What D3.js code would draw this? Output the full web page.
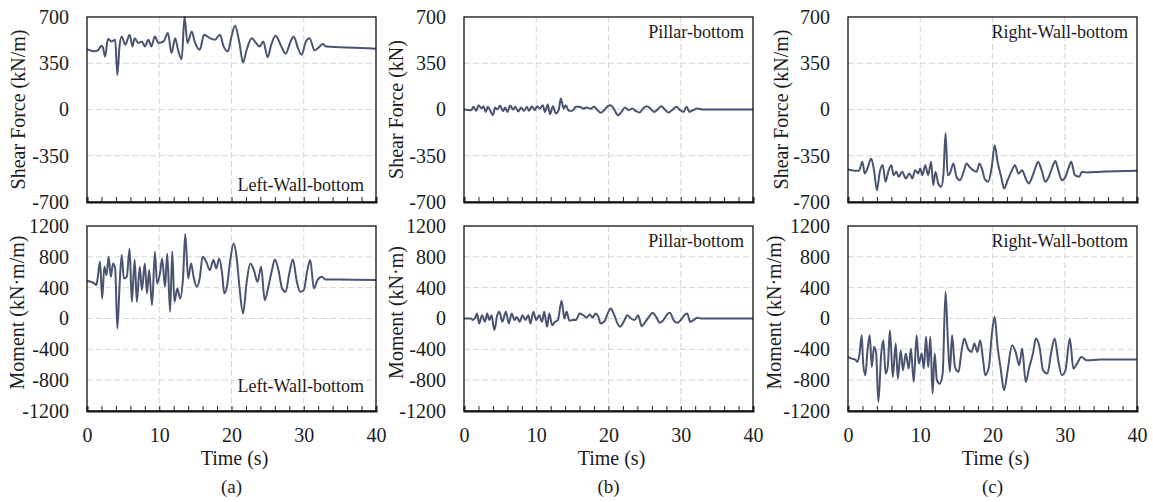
<!DOCTYPE html>
<html>
<head>
<meta charset="utf-8">
<script src="https://cdn.jsdelivr.net/npm/d3@7"></script>
<style>
  body { margin: 0; background: #fff; }
  svg text { font-family: "Liberation Serif", "Times New Roman", serif; fill: #1c1c1c; }
</style>
</head>
<body>
<div id="chart"></div>
<script>
var width = 1153,
    height = 502;

// axis values
var timeTicks = [0, 10, 20, 30, 40];
var shearTicks = [-700, -350, 0, 350, 700];
var momentTicks = [-1200, -800, -400, 0, 400, 800, 1200];

var panelNames = ["(a)", "(b)", "(c)"];
var locations = ["Left-Wall-bottom", "Pillar-bottom", "Right-Wall-bottom"];
var shearTitles = ["Shear Force (kN/m)", "Shear Force (kN)", "Shear Force (kN/m)"];
var momentTitles = ["Moment (kN\u00b7m/m)", "Moment (kN\u00b7m)", "Moment (kN\u00b7m/m)"];

// [time (s), value]
var leftShear = [[0,455],[0.5,447],[1,440],[1.5,447],[1.8,470],[2,482],[2.2,470],[2.5,400],[2.9,533],[3.4,515],[3.9,528],[4.2,262],[4.5,477],[4.8,553],[5.3,490],[5.9,566],[6.3,477],[6.6,540],[7.1,503],[7.6,515],[8.0,477],[8.5,528],[8.9,477],[9.4,553],[9.9,503],[10.6,515],[11.2,579],[11.7,427],[12.2,540],[12.6,452],[13.1,381],[13.5,700],[13.9,503],[14.5,591],[14.9,515],[15.6,452],[16.2,566],[17.0,540],[17.7,528],[18.4,566],[18.9,477],[19.5,440],[20.0,553],[20.5,634],[21.1,503],[21.6,356],[22.1,452],[22.8,540],[23.4,503],[23.9,477],[24.4,515],[25.0,396],[25.5,490],[26.1,558],[26.9,477],[27.5,422],[28.1,503],[28.6,553],[29.2,465],[29.7,414],[30.3,515],[30.8,540],[31.5,447],[32.0,465],[32.6,495],[33.1,477],[35,472],[40,460]];

var pillarShear = [[0,0],[1.0,-5],[1.3,20],[1.7,-10],[2.0,33],[2.4,8],[2.7,25],[3.0,-18],[3.3,20],[3.6,-5],[4.0,-43],[4.3,15],[4.6,0],[5.0,28],[5.4,-13],[5.7,15],[6.0,-18],[6.4,30],[6.8,0],[7.1,20],[7.5,-15],[7.9,15],[8.3,-10],[8.7,20],[9.0,-10],[9.4,25],[9.8,-5],[10.1,25],[10.5,8],[10.9,33],[11.2,-18],[11.6,38],[11.9,-35],[12.3,25],[12.7,-30],[13.1,-5],[13.4,83],[13.8,8],[14.1,33],[14.5,-10],[15.0,-10],[15.5,20],[16.0,20],[16.5,8],[17.0,15],[17.5,5],[18.0,20],[18.5,-5],[18.9,-25],[19.4,-5],[19.9,25],[20.3,33],[20.8,0],[21.3,-43],[21.8,-18],[22.3,15],[22.8,-5],[23.3,8],[23.8,-13],[24.3,-23],[24.8,8],[25.3,25],[25.8,8],[26.3,-18],[26.8,0],[27.3,25],[27.8,0],[28.3,-23],[28.8,-5],[29.4,20],[29.9,-5],[30.4,-18],[30.8,20],[31.2,-18],[31.7,-5],[32.3,8],[33,0],[40,0]];

var rightShear = [[0,-454],[0.5,-459],[1.0,-464],[1.5,-464],[2.0,-395],[2.3,-484],[2.7,-446],[3.2,-370],[3.6,-459],[4.0,-611],[4.4,-471],[4.8,-420],[5.2,-547],[5.6,-464],[6.0,-421],[6.3,-497],[6.7,-471],[7.0,-509],[7.5,-471],[8.0,-522],[8.5,-484],[8.9,-522],[9.3,-459],[9.7,-484],[10.0,-446],[10.3,-497],[10.7,-421],[11.1,-497],[11.5,-395],[11.8,-573],[12.1,-471],[12.5,-560],[12.9,-585],[13.2,-497],[13.5,-180],[13.8,-497],[14.1,-484],[14.6,-408],[15.0,-509],[15.5,-535],[16.0,-471],[16.4,-408],[16.8,-433],[17.3,-459],[17.8,-471],[18.2,-408],[18.6,-459],[18.9,-522],[19.4,-547],[19.9,-433],[20.3,-271],[20.7,-395],[21.2,-509],[21.6,-598],[22.1,-535],[22.7,-459],[23.1,-421],[23.6,-484],[24.1,-459],[24.5,-509],[25.0,-560],[25.5,-509],[26.0,-433],[26.3,-395],[26.8,-459],[27.3,-547],[27.8,-509],[28.3,-433],[28.7,-390],[29.1,-459],[29.6,-535],[30.1,-509],[30.5,-446],[30.9,-395],[31.4,-497],[32.0,-509],[32.4,-471],[33,-477],[35,-471],[40,-464]];

var leftMoment = [[0,485],[0.5,476],[1,455],[1.3,433],[1.5,541],[1.8,736],[2.1,260],[2.4,671],[2.7,563],[3.0,801],[3.3,541],[3.6,714],[3.9,650],[4.2,-130],[4.5,411],[4.8,823],[5.1,520],[5.5,541],[5.9,909],[6.2,216],[6.6,758],[6.9,216],[7.3,671],[7.6,368],[8.0,714],[8.3,325],[8.6,628],[9.0,173],[9.4,866],[9.7,455],[10.1,585],[10.4,780],[10.8,411],[11.1,844],[11.5,87],[11.8,866],[12.1,216],[12.5,390],[12.9,260],[13.3,541],[13.6,1095],[14.0,520],[14.4,714],[14.8,520],[15.2,411],[15.6,520],[16.0,801],[16.5,736],[17.0,628],[17.5,758],[17.9,650],[18.3,780],[18.7,585],[19.0,325],[19.4,433],[19.8,736],[20.3,974],[20.7,801],[21.1,411],[21.6,65],[22.1,476],[22.6,714],[23.1,628],[23.6,476],[24.1,671],[24.6,238],[25.1,411],[25.6,628],[26.0,766],[26.5,628],[27.0,390],[27.5,346],[28.0,585],[28.5,766],[29.0,498],[29.5,346],[30.0,368],[30.5,628],[30.9,758],[31.4,390],[31.9,498],[32.5,541],[33,506],[35,506],[40,498]];

var pillarMoment = [[0,0],[1.0,0],[1.2,-20],[1.6,20],[1.8,65],[2.1,-65],[2.5,43],[2.9,-43],[3.2,65],[3.5,-20],[3.8,43],[4.2,-150],[4.6,43],[4.9,87],[5.3,-43],[5.8,87],[6.2,-65],[6.6,65],[7.0,-20],[7.3,20],[7.7,-43],[8.1,43],[8.5,-20],[8.9,43],[9.2,-65],[9.6,87],[10.0,-20],[10.4,43],[10.8,-43],[11.1,87],[11.5,-108],[11.8,65],[12.2,-87],[12.6,-43],[13.0,-20],[13.5,230],[13.9,0],[14.2,87],[14.6,-30],[15.0,-20],[15.5,-20],[16.0,65],[16.5,43],[17.0,13],[17.4,52],[17.8,13],[18.2,65],[18.6,20],[18.9,-65],[19.4,-43],[19.9,65],[20.3,130],[20.8,43],[21.3,-75],[21.6,-108],[22.1,-43],[22.6,43],[23.1,0],[23.6,-20],[24.1,43],[24.6,-100],[25.1,-43],[25.6,20],[26.1,74],[26.6,20],[27.1,-56],[27.6,-20],[28.1,52],[28.5,74],[29.0,-20],[29.5,-56],[30.0,-20],[30.5,43],[30.9,65],[31.3,-43],[31.8,-20],[32.3,9],[32.8,0],[40,0]];

var rightMoment = [[0,-498],[0.5,-520],[1.0,-533],[1.3,-563],[1.6,-455],[1.9,-217],[2.1,-585],[2.4,-736],[2.7,-411],[3.0,-217],[3.3,-628],[3.6,-368],[3.9,-455],[4.2,-1083],[4.6,-455],[4.9,-281],[5.2,-715],[5.5,-628],[5.8,-152],[6.2,-758],[6.6,-325],[6.9,-780],[7.3,-411],[7.6,-671],[8.0,-455],[8.4,-650],[8.7,-390],[9.1,-823],[9.5,-217],[9.8,-585],[10.2,-455],[10.5,-650],[10.8,-238],[11.1,-628],[11.4,-238],[11.7,-975],[12.0,-455],[12.3,-801],[12.7,-845],[13.1,-715],[13.5,347],[13.8,-238],[14.1,-693],[14.4,-217],[14.8,-628],[15.3,-693],[15.7,-433],[16.1,-260],[16.6,-390],[17.1,-433],[17.5,-325],[17.9,-433],[18.3,-281],[18.7,-541],[19.0,-736],[19.5,-628],[19.9,-217],[20.3,22],[20.7,-368],[21.1,-628],[21.6,-931],[22.1,-671],[22.7,-346],[23.2,-433],[23.7,-606],[24.1,-390],[24.6,-823],[25.1,-628],[25.6,-455],[26.0,-260],[26.5,-368],[27.0,-671],[27.6,-715],[28.1,-455],[28.6,-260],[29.1,-541],[29.6,-736],[30.1,-671],[30.7,-260],[31.2,-650],[31.7,-585],[32.3,-498],[33,-541],[35,-533],[40,-533]];

var shearSeries = [leftShear, pillarShear, rightShear];
var momentSeries = [leftMoment, pillarMoment, rightMoment];

// layout
var colLeft = [87, 464, 848],
    rowTop = [17, 226],
    plotW = 289,
    plotH = 185;
var lineColor = "#4a5470";
var ink = "#1c1c1c";

var svg = d3.select("#chart").append("svg")
    .attr("width", width)
    .attr("height", height);

function drawPanel(col, row) {
    var isShear = row === 0;
    var ticks = isShear ? shearTicks : momentTicks;
    var data = isShear ? shearSeries[col] : momentSeries[col];
    var title = isShear ? shearTitles[col] : momentTitles[col];

    var g = svg.append("g")
        .attr("transform", "translate(" + colLeft[col] + "," + rowTop[row] + ")");

    var x = d3.scaleLinear().domain([0, 40]).range([0, plotW]);
    var y = d3.scaleLinear().domain(d3.extent(ticks)).range([plotH, 0]);

    // dashed grid
    g.selectAll(".gy").data(ticks.slice(1, -1)).enter().append("line")
        .attr("x1", 0).attr("x2", plotW)
        .attr("y1", function(d) { return y(d); })
        .attr("y2", function(d) { return y(d); })
        .attr("stroke", "#d6d6d6").attr("stroke-dasharray", "6,3");
    g.selectAll(".gx").data(timeTicks.slice(1, -1)).enter().append("line")
        .attr("y1", 0).attr("y2", plotH)
        .attr("x1", function(d) { return x(d); })
        .attr("x2", function(d) { return x(d); })
        .attr("stroke", "#d6d6d6").attr("stroke-dasharray", "6,3");

    // series
    var line = d3.line()
        .x(function(d) { return x(d[0]); })
        .y(function(d) { return y(d[1]); })
        .curve(d3.curveMonotoneX);
    g.append("path")
        .datum(data)
        .attr("d", line)
        .attr("fill", "none")
        .attr("stroke", lineColor)
        .attr("stroke-width", 2)
        .attr("stroke-linejoin", "round");

    // frame
    g.append("rect")
        .attr("width", plotW).attr("height", plotH)
        .attr("fill", "none").attr("stroke", "#111").attr("stroke-width", 1.3);

    // y axis labels
    var yAxis = d3.axisLeft(y).tickValues(ticks).tickSize(0).tickPadding(18)
        .tickFormat(function(d) { return d; });
    var ya = g.append("g").call(yAxis);
    ya.select(".domain").remove();
    ya.selectAll("text").style("font-size", "20px")
        .style("font-family", "'Liberation Serif', serif").attr("fill", ink);

    // x axis with inward minor ticks every 2 s
    var xAxis = d3.axisBottom(x)
        .tickValues(d3.range(0, 41, 2))
        .tickSize(-5)
        .tickPadding(17)
        .tickFormat(function(d) { return (row === 1 && d % 10 === 0) ? d : ""; });
    var xa = g.append("g")
        .attr("transform", "translate(0," + plotH + ")")
        .call(xAxis);
    xa.select(".domain").attr("stroke", "#111").attr("stroke-width", 2);
    xa.selectAll(".tick line").attr("stroke", "#222").attr("stroke-width", 1);
    xa.selectAll("text").style("font-size", "20px")
        .style("font-family", "'Liberation Serif', serif").attr("fill", ink);

    // y title
    var titleX = [[-69, -68, -67], [-70, -68, -74]][row][col];
    g.append("text")
        .attr("transform", "translate(" + titleX + "," + (plotH / 2 - (row === 1 ? 6 : 0)) + ") rotate(-90)")
        .attr("text-anchor", "middle")
        .attr("dy", "0.35em")
        .style("font-size", "20px")
        .text(title);

    // location note
    var atBottom = col === 0;
    var noteY = atBottom ? (row === 0 ? plotH - 11 : plotH - 19) : 21;
    g.append("text")
        .attr("x", plotW - (col === 0 ? 12 : 9))
        .attr("y", noteY)
        .attr("text-anchor", "end")
        .style("font-size", "18px")
        .text(locations[col]);

    if (row === 1) {
        g.append("text")
            .attr("x", plotW / 2 + 3)
            .attr("y", plotH + 54)
            .attr("text-anchor", "middle")
            .style("font-size", "20px")
            .text("Time (s)");
        g.append("text")
            .attr("x", plotW / 2)
            .attr("y", plotH + 82)
            .attr("text-anchor", "middle")
            .style("font-size", "19px")
            .text(panelNames[col]);
    }
}

for (var c = 0; c < 3; c++) {
    drawPanel(c, 0);
    drawPanel(c, 1);
}
</script>
</body>
</html>
